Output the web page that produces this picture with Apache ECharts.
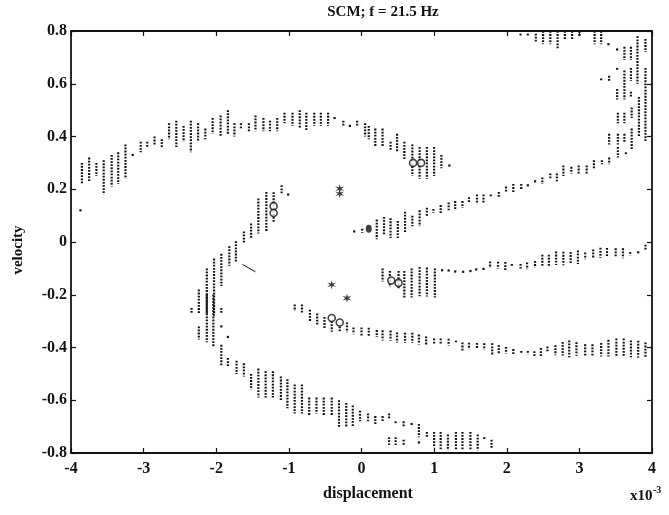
<!DOCTYPE html>
<html><head><meta charset="utf-8">
<script src="https://cdn.jsdelivr.net/npm/echarts@6/dist/echarts.min.js"></script>
<style>html,body{margin:0;padding:0;background:#fff}#c{width:669px;height:515px}</style>
</head><body><div id="c"></div><script>
// Axis ticks
const xTicks = [-4,-3,-2,-1,0,1,2,3,4];
const yTicks = [-0.8,-0.6,-0.4,-0.2,0,0.2,0.4,0.6,0.8];
const titleText = 'SCM; f = 21.5 Hz';
const xName = 'displacement';
const yName = 'velocity';

// Each entry: [displacement (x1e-3), velocity top, velocity bottom] — a column of dots
const topArc = [
 [-3.85,0.30,0.22],[-3.75,0.32,0.23],[-3.65,0.30,0.25],[-3.55,0.31,0.18],[-3.44,0.33,0.21],
 [-3.35,0.34,0.22],[-3.25,0.37,0.24],[-3.15,0.33,0.33],[-3.04,0.38,0.34],[-2.95,0.38,0.36],
 [-2.85,0.40,0.37],[-2.75,0.39,0.36],[-2.65,0.45,0.39],[-2.55,0.46,0.36],[-2.45,0.44,0.38],
 [-2.35,0.46,0.34],[-2.25,0.45,0.38],[-2.15,0.43,0.39],[-2.05,0.47,0.41],[-1.94,0.48,0.40],
 [-1.84,0.50,0.41],[-1.75,0.45,0.40],[-1.66,0.45,0.43],[-1.55,0.45,0.42],[-1.46,0.48,0.42],
 [-1.35,0.47,0.42],[-1.26,0.46,0.42],[-1.16,0.47,0.42],[-1.06,0.49,0.45],[-0.95,0.49,0.44],
 [-0.85,0.50,0.43],[-0.76,0.49,0.42],[-0.65,0.49,0.44],[-0.56,0.49,0.44],[-0.46,0.49,0.44],
 [-0.37,0.47,0.47],[-0.25,0.46,0.44],[-0.16,0.44,0.44],[-0.06,0.46,0.44],[0.05,0.45,0.40],
 [0.10,0.44,0.39],[0.19,0.43,0.36],[0.29,0.43,0.36],[0.40,0.38,0.35],[0.49,0.41,0.34],
 [0.59,0.38,0.31],[0.70,0.37,0.25],[0.80,0.36,0.24],[0.90,0.36,0.24],[1.00,0.36,0.25],
 [1.10,0.33,0.28],[1.21,0.29,0.29]
];
const risingBranch = [
 [-0.10,0.04,0.04],[0.01,0.05,0.035],[0.21,0.085,0.01],[0.31,0.095,0.025],[0.40,0.09,0.015],
 [0.50,0.08,0.015],[0.60,0.115,0.035],[0.70,0.10,0.06],[0.80,0.12,0.06],[0.90,0.13,0.095],
 [0.99,0.125,0.11],[1.09,0.14,0.11],[1.20,0.15,0.12],[1.29,0.155,0.125],[1.39,0.155,0.13],
 [1.48,0.17,0.15],[1.59,0.18,0.15],[1.68,0.18,0.15],[1.78,0.18,0.17],[1.89,0.19,0.17],
 [1.99,0.21,0.19],[2.09,0.22,0.19],[2.20,0.22,0.20],[2.29,0.215,0.215],[2.39,0.23,0.23],
 [2.49,0.245,0.22],[2.60,0.26,0.24],[2.69,0.26,0.23],[2.78,0.29,0.25],[2.89,0.285,0.26],
 [2.99,0.29,0.26],[3.10,0.29,0.26],[3.20,0.31,0.28],[3.31,0.31,0.295],[3.41,0.32,0.295]
];
const topRightCluster = [
 [2.19,0.79,0.78],[2.29,0.79,0.78],[2.40,0.79,0.76],[2.50,0.80,0.75],[2.60,0.80,0.75],
 [2.70,0.80,0.73],[2.80,0.80,0.77],[2.90,0.80,0.77],[3.00,0.80,0.78],[3.21,0.80,0.75],
 [3.30,0.80,0.75],[3.40,0.75,0.75],[3.52,0.73,0.73],[3.62,0.74,0.69],[3.71,0.74,0.69],
 [3.80,0.78,0.60],[3.82,0.55,0.40],[3.91,0.77,0.72],[3.91,0.66,0.38],
 [3.30,0.62,0.61],[3.41,0.63,0.61],[3.52,0.66,0.65],[3.52,0.58,0.54],[3.62,0.65,0.54],
 [3.71,0.66,0.61],[3.71,0.57,0.55],[3.53,0.49,0.45],[3.62,0.49,0.45],[3.72,0.51,0.47],
 [3.41,0.41,0.37],[3.53,0.41,0.37],[3.62,0.41,0.38],[3.72,0.43,0.35],[3.53,0.36,0.32],
 [3.64,0.34,0.33]
];
const middleBranch = [
 [0.29,-0.10,-0.15],[0.39,-0.11,-0.17],[0.51,-0.11,-0.18],[0.59,-0.11,-0.21],[0.69,-0.10,-0.21],
 [0.80,-0.095,-0.206],[0.90,-0.097,-0.207],[1.01,-0.10,-0.21],[1.11,-0.107,-0.107],[1.20,-0.108,-0.108],
 [1.29,-0.112,-0.112],[1.40,-0.113,-0.113],[1.50,-0.11,-0.11],[1.58,-0.104,-0.104],[1.68,-0.102,-0.102],
 [1.77,-0.074,-0.099],[1.88,-0.075,-0.10],[1.98,-0.076,-0.107],[2.07,-0.083,-0.095],[2.19,-0.083,-0.10],
 [2.28,-0.078,-0.103],[2.39,-0.072,-0.097],[2.49,-0.048,-0.092],[2.58,-0.048,-0.093],[2.68,-0.036,-0.087],
 [2.78,-0.037,-0.088],[2.88,-0.038,-0.082],[2.98,-0.032,-0.083],[3.08,-0.04,-0.065],[3.19,-0.028,-0.059],
 [3.29,-0.022,-0.06],[3.38,-0.023,-0.054],[3.50,-0.024,-0.06],[3.60,-0.024,-0.062],[3.70,-0.038,-0.05],
 [3.81,-0.039,-0.039],[3.91,-0.01,-0.03]
];
const lowerBranch = [
 [-0.92,-0.237,-0.262],[-0.82,-0.237,-0.269],[-0.71,-0.257,-0.301],[-0.61,-0.271,-0.315],[-0.51,-0.284,-0.328],
 [-0.41,-0.30,-0.34],[-0.30,-0.32,-0.34],[-0.20,-0.305,-0.342],[-0.11,-0.324,-0.350],[0.00,-0.324,-0.357],
 [0.10,-0.325,-0.358],[0.21,-0.334,-0.36],[0.29,-0.335,-0.373],[0.40,-0.336,-0.374],[0.49,-0.343,-0.381],
 [0.60,-0.344,-0.382],[0.70,-0.344,-0.382],[0.79,-0.351,-0.389],[0.89,-0.358,-0.39],[1.00,-0.366,-0.39],
 [1.09,-0.366,-0.385],[1.20,-0.367,-0.392],[1.30,-0.374,-0.38],[1.39,-0.381,-0.413],[1.48,-0.382,-0.407],
 [1.59,-0.383,-0.402],[1.69,-0.384,-0.409],[1.80,-0.384,-0.429],[1.89,-0.391,-0.423],[1.99,-0.398,-0.424],
 [2.09,-0.406,-0.425],[2.20,-0.413,-0.425],[2.29,-0.413,-0.426],[2.38,-0.414,-0.433],[2.47,-0.402,-0.434],
 [2.56,-0.396,-0.415],[2.67,-0.391,-0.429],[2.77,-0.379,-0.43],[2.86,-0.373,-0.437],[2.96,-0.38,-0.431],
 [3.08,-0.388,-0.432],[3.18,-0.388,-0.433],[3.30,-0.383,-0.434],[3.40,-0.371,-0.434],[3.51,-0.366,-0.435],
 [3.61,-0.366,-0.436],[3.71,-0.373,-0.437],[3.81,-0.374,-0.438],[3.91,-0.381,-0.438]
];
const leftArc = [
 [-1.01,0.18,0.18],[-1.10,0.215,0.181],[-1.21,0.189,0.075],[-1.31,0.19,0.04],[-1.42,0.165,0.032],
 [-1.52,0.07,0.014],[-1.62,0.04,-0.004],[-1.73,0.003,-0.08],[-1.82,-0.016,-0.09],[-1.93,-0.045,-0.167],
 [-2.03,-0.063,-0.28],[-2.13,-0.10,-0.27],[-2.24,-0.18,-0.27],[-2.34,-0.25,-0.27],
 [-2.24,-0.32,-0.37],[-2.13,-0.20,-0.38],[-2.04,-0.20,-0.40],[-1.93,-0.25,-0.27],[-1.93,-0.32,-0.32],
 [-1.93,-0.39,-0.47],[-1.84,-0.36,-0.36],[-1.84,-0.44,-0.47],[-1.72,-0.45,-0.50],[-1.62,-0.46,-0.51]
];
const bottomArc = [
 [-1.52,-0.50,-0.56],[-1.42,-0.48,-0.59],[-1.32,-0.49,-0.59],[-1.22,-0.49,-0.59],[-1.11,-0.51,-0.60],
 [-1.02,-0.52,-0.63],[-0.92,-0.54,-0.65],[-0.82,-0.54,-0.65],[-0.72,-0.59,-0.66],[-0.62,-0.59,-0.65],
 [-0.52,-0.59,-0.66],[-0.41,-0.59,-0.66],[-0.31,-0.60,-0.70],[-0.21,-0.61,-0.70],[-0.12,-0.62,-0.70],
 [-0.02,-0.64,-0.68],[0.09,-0.65,-0.68],[0.19,-0.66,-0.69],[0.29,-0.66,-0.68],[0.38,-0.65,-0.67],
 [0.38,-0.74,-0.77],[0.47,-0.68,-0.69],[0.47,-0.74,-0.77],[0.58,-0.68,-0.70],[0.58,-0.75,-0.77],
 [0.69,-0.69,-0.69],[0.79,-0.69,-0.74],[0.79,-0.76,-0.76],[0.90,-0.72,-0.74],[1.00,-0.72,-0.78],
 [1.09,-0.72,-0.79],[1.19,-0.73,-0.79],[1.30,-0.72,-0.79],[1.39,-0.72,-0.79],[1.50,-0.72,-0.79],
 [1.60,-0.73,-0.79],[1.69,-0.74,-0.75],[1.79,-0.75,-0.78]
];
const strayDots = [[-3.87,0.12,0.12]];
const dashSegment = [[-1.64,-0.085],[-1.46,-0.113]];
const circleMarks = [[0.71,0.30],[0.82,0.30],[-1.21,0.136],[-1.21,0.11],[0.41,-0.146],[0.51,-0.155],[-0.41,-0.288],[-0.30,-0.305]];
const starMarks = [[-0.30,0.202],[-0.30,0.183],[-0.41,-0.162],[-0.20,-0.213]];
const filledMark = [[0.10,0.05]];

const INK = '#121212';
const FONT = 'Liberation Serif';

function renderColumn(params, api) {
  const x = api.value(0), yt = api.value(1), yb = api.value(2);
  const p1 = api.coord([x, yt]);
  const p2 = api.coord([x, yb]);
  if (Math.abs(p2[1] - p1[1]) < 1.5) {
    return {type:'rect', shape:{x:p1[0]-1.1, y:p1[1]-1.1, width:2.2, height:2.2}, style:{fill:INK}};
  }
  return {type:'line', shape:{x1:p1[0], y1:p1[1], x2:p2[0], y2:p2[1]},
    style:{stroke:INK, lineWidth:2.2, lineDash:[1.8,1.3]}};
}
function colSeries(name, data) {
  return {name, type:'custom', coordinateSystem:'cartesian2d', renderItem:renderColumn,
    encode:{x:0, y:[1,2]}, data, clip:true, silent:true, animation:false};
}

const labelStyle = {color:INK, fontFamily:FONT, fontWeight:'bold', fontSize:16};
const lineStyle = {color:INK, width:1.8};
const tickStyle = {color:INK, width:1.2};

const chart = echarts.init(document.getElementById('c'), null, {renderer:'canvas'});
chart.setOption({
  backgroundColor:'#fff',
  animation:false,
  grid:{left:71, right:17, top:31, bottom:62},
  xAxis:[
    {type:'value', min:xTicks[0], max:xTicks[xTicks.length-1], interval:1, position:'bottom',
     axisLine:{show:true, onZero:false, lineStyle}, axisTick:{show:true, inside:true, length:5, lineStyle:tickStyle},
     axisLabel:Object.assign({margin:8}, labelStyle), splitLine:{show:false}},
    {type:'value', min:xTicks[0], max:xTicks[xTicks.length-1], interval:1, position:'top',
     axisLine:{show:true, onZero:false, lineStyle}, axisTick:{show:true, inside:true, length:5, lineStyle:tickStyle},
     axisLabel:{show:false}, splitLine:{show:false}}
  ],
  yAxis:[
    {type:'value', min:yTicks[0], max:yTicks[yTicks.length-1], interval:0.2, position:'left',
     axisLine:{show:true, onZero:false, lineStyle}, axisTick:{show:true, inside:true, length:5, lineStyle:tickStyle},
     axisLabel:Object.assign({margin:4, formatter:v => String(Number(v.toFixed(1)))}, labelStyle), splitLine:{show:false}},
    {type:'value', min:yTicks[0], max:yTicks[yTicks.length-1], interval:0.2, position:'right',
     axisLine:{show:true, onZero:false, lineStyle}, axisTick:{show:true, inside:true, length:5, lineStyle:tickStyle},
     axisLabel:{show:false}, splitLine:{show:false}}
  ],
  series:[
    colSeries('topArc', topArc),
    colSeries('risingBranch', risingBranch),
    colSeries('topRightCluster', topRightCluster),
    colSeries('middleBranch', middleBranch),
    colSeries('lowerBranch', lowerBranch),
    colSeries('leftArc', leftArc),
    colSeries('bottomArc', bottomArc),
    colSeries('strayDots', strayDots),
    {type:'line', data:dashSegment, symbol:'none', lineStyle:{color:INK, width:1}, silent:true},
    {type:'scatter', data:circleMarks, symbol:'circle', symbolSize:7,
     itemStyle:{color:'#fff', borderColor:INK, borderWidth:1.6}, silent:true, z:5},
    {type:'scatter', data:starMarks, symbolSize:9,
     symbol:'path://M5,0 L6,3.5 L10,2.5 L7,5 L10,7.5 L6,6.5 L5,10 L4,6.5 L0,7.5 L3,5 L0,2.5 L4,3.5 Z',
     itemStyle:{color:INK}, silent:true, z:5},
    {type:'scatter', data:filledMark, symbol:'circle', symbolSize:[6,8], itemStyle:{color:INK}, silent:true, z:5}
  ],
  graphic:[
    {type:'text', x:383, y:12, style:{text:titleText, fill:INK, font:'bold 15px "Liberation Serif"', textAlign:'center', textVerticalAlign:'middle'}},
    {type:'text', x:368, y:494, style:{text:xName, fill:INK, font:'bold 16px "Liberation Serif"', textAlign:'center', textVerticalAlign:'middle'}},
    {type:'text', x:18, y:250, rotation:Math.PI/2, style:{text:yName, fill:INK, font:'bold 15px "Liberation Serif"', textAlign:'center', textVerticalAlign:'middle'}},
    {type:'text', x:630, y:496, style:{text:'x10', fill:INK, font:'bold 15px "Liberation Serif"', textAlign:'left', textVerticalAlign:'middle'}},
    {type:'text', x:653, y:490, style:{text:'-3', fill:INK, font:'bold 10px "Liberation Serif"', textAlign:'left', textVerticalAlign:'middle'}}
  ]
});
</script></body></html>
